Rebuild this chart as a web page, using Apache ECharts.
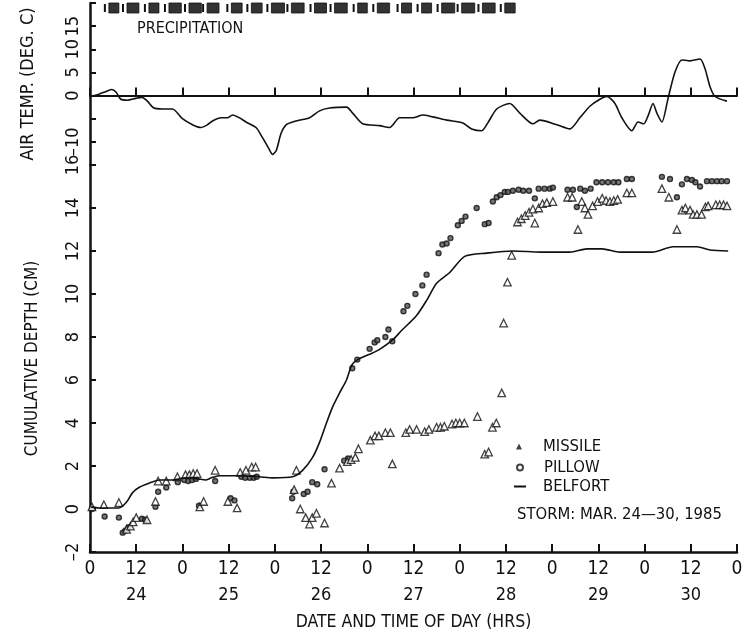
<!DOCTYPE html>
<html>
<head>
<meta charset="utf-8">
<script src="https://cdn.jsdelivr.net/npm/echarts@6/dist/echarts.min.js"></script>
<style>html,body{margin:0;padding:0;background:#fff;}#c{width:751px;height:639px;}</style>
</head>
<body>
<div id="c"></div>
<script>
// ---- data ----
const hourTickLabels = ['0','12'];
const dayLabels = ['24','25','26','27','28','29','30'];
const tempLabelValues = [-10, 0, 5, 10, 15];

const precipStart = [4.9, 9.6, 15.3, 20.5, 25.7, 30.4, 36.7, 41.9, 47.1, 52.3, 58.3, 63.5, 69.5, 74.6, 80.9, 86.1, 91.3, 96.5, 101.9, 107.7];
const precipEnd   = [7.5, 12.7, 17.9, 23.7, 28.9, 33.5, 39.5, 44.7, 50.5, 55.6, 61.4, 66.8, 72.0, 77.8, 83.5, 88.7, 94.7, 99.9, 105.2, 110.4];

const tempHours = [0, 2.3, 4.2, 5.7, 6.8, 8, 9.7, 11.9, 13.5, 14.9, 16.6, 18.8, 21.4, 24, 26.6, 28.8, 30.5, 31.8, 34, 35.7, 37, 38.8, 40.5, 43.1, 44.8, 46.4, 47.4, 48.4, 49.6, 51, 53.5, 57, 59.6, 62.2, 66.6, 68.2, 70.8, 75.2, 77.8, 80.4, 83.8, 86.4, 89, 92.6, 96.8, 99.1, 101.7, 103.3, 105.6, 109, 111.6, 115, 116.8, 121.2, 124.6, 127.2, 129.8, 132.4, 134.2, 136.3, 138.1, 140.7, 142.3, 143.8, 144.9, 146.2, 147.2, 148.5, 150.1, 151.9, 153.7, 155.8, 158.4, 159.7, 161, 162.3, 165.4];
const tempValues = [-0.2, 0.3, 0.9, 1.3, 0.7, -0.8, -1.0, -0.6, -0.4, -1.2, -2.7, -2.9, -2.9, -5.0, -6.3, -6.9, -6.3, -5.5, -4.8, -4.8, -4.2, -4.8, -5.7, -6.9, -9.1, -11.4, -12.7, -11.8, -8.2, -6.3, -5.5, -4.8, -3.3, -2.7, -2.5, -3.8, -6.1, -6.5, -6.9, -4.8, -4.8, -4.2, -4.6, -5.3, -5.9, -7.2, -7.6, -5.9, -2.9, -1.7, -3.8, -6.1, -5.3, -6.3, -7.2, -4.8, -2.3, -0.8, -0.2, -1.7, -4.8, -7.6, -5.7, -6.1, -4.4, -1.7, -3.8, -5.7, -0.6, 5.1, 7.7, 7.5, 7.9, 5.8, 1.9, -0.2, -1.2];

const belfortHours = [0.3, 2.3, 7.5, 9.4, 11, 12.7, 15.3, 18, 21.4, 25, 28, 30, 31.5, 33.5, 38.8, 44, 47.4, 52.6, 55.2, 57.8, 59.6, 61.4, 63, 64.8, 66.6, 68, 69.5, 72.6, 75, 78.5, 80.9, 84.8, 87.4, 90, 93.4, 97.3, 103, 109.8, 117, 124.6, 129, 133, 137.6, 146, 151.4, 157.6, 161, 165.7];
const belfortDepth = [0.1, 0.05, 0.05, 0.3, 0.75, 1.0, 1.2, 1.35, 1.35, 1.45, 1.4, 1.35, 1.45, 1.55, 1.55, 1.5, 1.45, 1.5, 1.8, 2.4, 3.1, 4.0, 4.75, 5.4, 6.0, 6.7, 6.95, 7.2, 7.4, 7.85, 8.3, 9.0, 9.7, 10.5, 11.0, 11.75, 11.9, 12.0, 11.95, 11.95, 12.1, 12.1, 11.95, 11.95, 12.2, 12.2, 12.05, 12.0];

const pillowHours = [0.5, 3.8, 7.5, 8.5, 9.2, 10, 13.5, 14.3, 17, 17.7, 19.8, 22.8, 24.5, 25.5, 26.5, 27.5, 28.3, 32.5, 36.5, 37.5, 39.3, 40.3, 41.5, 42.5, 43.3, 52.5, 52.8, 55.5, 56.5, 57.7, 59, 60.9, 66, 67, 68.1, 69.4, 72.6, 73.9, 74.6, 76.7, 77.5, 78.5, 81.4, 82.4, 84.5, 86.3, 87.4, 90.5, 91.5, 92.6, 93.6, 95.5, 96.5, 97.5, 100.4, 102.5, 103.5, 104.6, 105.6, 106.6, 107.7, 108.5, 109.8, 111.3, 112.5, 114, 115.5, 116.5, 118, 119.4, 120.2, 124, 125.4, 126.4, 127.3, 128.5, 130, 131.5, 133, 134.5, 136, 137.2, 139.4, 140.7, 148.5, 150.6, 152.4, 153.7, 155, 156.3, 157.2, 158.4, 160.2, 161.5, 162.8, 164, 165.4];
const pillowDepth = [0.0, -0.35, -0.4, -1.1, -1.0, -0.85, -0.45, -0.5, 0.1, 0.8, 1.0, 1.25, 1.35, 1.3, 1.35, 1.4, 0.15, 1.3, 0.5, 0.4, 1.5, 1.45, 1.45, 1.45, 1.5, 0.5, 0.8, 0.7, 0.8, 1.25, 1.15, 1.85, 2.25, 2.35, 6.55, 6.95, 7.45, 7.75, 7.85, 8.0, 8.35, 7.8, 9.2, 9.45, 10.0, 10.4, 10.9, 11.9, 12.3, 12.35, 12.6, 13.2, 13.4, 13.6, 14.0, 13.25, 13.3, 14.3, 14.5, 14.6, 14.75, 14.75, 14.8, 14.85, 14.8, 14.8, 14.45, 14.9, 14.9, 14.9, 14.95, 14.85, 14.85, 14.05, 14.9, 14.8, 14.9, 15.2, 15.2, 15.2, 15.2, 15.2, 15.35, 15.35, 15.45, 15.35, 14.5, 15.1, 15.35, 15.3, 15.2, 15.0, 15.25, 15.25, 15.25, 15.25, 15.25];

const missileHours = [0.5, 3.6, 7.5, 9.5, 10.5, 11.2, 12, 14.8, 17, 17.7, 19.8, 22.7, 24.8, 25.8, 26.8, 27.8, 28.5, 29.5, 32.5, 35.8, 38.2, 39, 40.5, 42, 43, 53.6, 53, 54.6, 56, 57, 57.7, 58.8, 60.9, 62.7, 64.8, 66.8, 67.8, 68.9, 69.7, 72.8, 74, 75, 76.7, 78, 78.5, 82, 83, 84.8, 86.9, 88, 90, 91, 92, 94, 95, 96, 97.2, 100.6, 102.5, 103.5, 104.5, 105.5, 106.9, 107.4, 108.4, 109.5, 111, 112, 113, 114, 115, 115.5, 116.5, 117.5, 118.6, 120.2, 124, 125.2, 126.7, 127.7, 128.5, 129.3, 130.5, 131.8, 133, 134, 135, 136, 137, 139.4, 140.7, 148.5, 150.3, 152.4, 153.7, 154.6, 155.8, 156.6, 157.6, 158.8, 159.8, 160.5, 162.5, 163.5, 164.5, 165.4];
const missileDepth = [0.1, 0.2, 0.3, -0.95, -0.8, -0.6, -0.4, -0.5, 0.35, 1.3, 1.3, 1.5, 1.6, 1.6, 1.65, 1.65, 0.1, 0.35, 1.8, 0.35, 0.05, 1.7, 1.8, 1.95, 1.95, 1.8, 0.9, 0.0, -0.4, -0.7, -0.4, -0.2, -0.65, 1.2, 1.9, 2.2, 2.3, 2.4, 2.8, 3.2, 3.4, 3.4, 3.55, 3.55, 2.1, 3.55, 3.7, 3.7, 3.6, 3.7, 3.8, 3.8, 3.85, 3.95, 4.0, 4.0, 4.0, 4.3, 2.55, 2.65, 3.8, 4.0, 5.4, 8.65, 10.55, 11.8, 13.35, 13.5, 13.65, 13.8, 13.95, 13.3, 14.0, 14.2, 14.25, 14.3, 14.5, 14.5, 13.0, 14.3, 14.0, 13.7, 14.1, 14.3, 14.45, 14.35, 14.3, 14.35, 14.4, 14.7, 14.7, 14.9, 14.5, 13.0, 13.9, 14.0, 13.9, 13.7, 13.7, 13.7, 14.05, 14.1, 14.15, 14.15, 14.15, 14.1];

// ---- chart ----
const FONT = "'Liberation Sans Narrow','DejaVu Sans Condensed','Liberation Sans',Arial,sans-serif";
const INK = '#111';
const zip = (a, b) => a.map((v, i) => [v, b[i]]);
const precipData = precipStart.map((s, i) => [s, precipEnd[i]]);

const chart = echarts.init(document.getElementById('c'), null, {renderer: 'canvas'});
const option = {
  animation: false,
  backgroundColor: '#fff',
  textStyle: {fontFamily: FONT, color: INK},
  grid: [
    {left: 90, top: 0, width: 647, height: 165},
    {left: 90, top: 165, width: 647, height: 387}
  ],
  xAxis: [
    {gridIndex: 0, type: 'value', min: 0, max: 168, interval: 12,
     axisLine: {onZero: true, lineStyle: {color: INK, width: 2}},
     axisTick: {inside: true, length: 8, lineStyle: {color: INK, width: 2}},
     axisLabel: {show: false}, splitLine: {show: false}},
    {gridIndex: 1, type: 'value', min: 0, max: 168, interval: 12, position: 'bottom',
     axisLine: {onZero: false, lineStyle: {color: INK, width: 2.5}},
     axisTick: {inside: true, length: 8, lineStyle: {color: INK, width: 2}},
     axisLabel: {margin: 8, fontSize: 19, color: INK, fontFamily: FONT,
       formatter: v => hourTickLabels[(v % 24) / 12]},
     splitLine: {show: false}},
    {gridIndex: 1, type: 'value', min: 0, max: 168, interval: 12, position: 'bottom', offset: 26,
     axisLine: {show: false, onZero: false}, axisTick: {show: false},
     axisLabel: {margin: 8, fontSize: 18, color: INK, fontFamily: FONT,
       formatter: v => (v % 24 === 12 ? dayLabels[Math.floor(v / 24)] : '')},
     splitLine: {show: false},
     name: 'DATE AND TIME OF DAY (HRS)', nameLocation: 'middle', nameGap: 35,
     nameTextStyle: {fontSize: 17.5, color: INK, fontFamily: FONT}}
  ],
  yAxis: [
    {gridIndex: 0, type: 'value', min: -15, max: 20, interval: 5,
     axisLine: {show: true, onZero: false, lineStyle: {color: INK, width: 2.5}},
     axisTick: {show: true, inside: true, length: 6, lineStyle: {color: INK, width: 2}},
     axisLabel: {rotate: 90, margin: 8, fontSize: 18, color: INK, fontFamily: FONT,
       formatter: v => (tempLabelValues.indexOf(v) >= 0 ? String(v).replace('-', '\u2013') : '')},
     splitLine: {show: false},
     name: 'AIR TEMP. (DEG. C)', nameLocation: 'middle', nameRotate: 90, nameGap: 53,
     nameTextStyle: {fontSize: 18, color: INK, fontFamily: FONT}},
    {gridIndex: 1, type: 'value', min: -2, max: 16, interval: 2,
     axisLine: {show: true, onZero: false, lineStyle: {color: INK, width: 2.5}},
     axisTick: {show: true, inside: true, length: 6, lineStyle: {color: INK, width: 2}},
     axisLabel: {rotate: 90, margin: 8, fontSize: 18, color: INK, fontFamily: FONT,
       formatter: v => String(v).replace('-', '\u2013')},
     splitLine: {show: false},
     name: 'CUMULATIVE DEPTH (CM)', nameLocation: 'middle', nameRotate: 90, nameGap: 49,
     nameTextStyle: {fontSize: 17, color: INK, fontFamily: FONT}}
  ],
  legend: [
    {orient: 'vertical', left: 516, top: 438, padding: 0, itemWidth: 6, itemHeight: 6,
     textStyle: {fontSize: 16.5, color: INK, fontFamily: FONT, padding: [0, 0, 0, 16]},
     data: [{name: 'MISSILE', icon: 'triangle', itemStyle: {color: INK, borderWidth: 0}}]},
    {orient: 'vertical', left: 516, top: 459, padding: 0, itemWidth: 6, itemHeight: 6,
     textStyle: {fontSize: 16.5, color: INK, fontFamily: FONT, padding: [0, 0, 0, 16]},
     data: [{name: 'PILLOW', icon: 'emptyCircle', itemStyle: {color: INK, borderColor: INK, borderWidth: 1.5}}]},
    {orient: 'vertical', left: 514, top: 478, padding: 0, itemWidth: 12, itemHeight: 2,
     textStyle: {fontSize: 16.5, color: INK, fontFamily: FONT, padding: [0, 0, 0, 12]},
     data: [{name: 'BELFORT', icon: 'rect', itemStyle: {color: INK}}]}
  ],
  graphic: [
    {type: 'text', left: 137, top: 21, style: {text: 'PRECIPITATION', font: '16px ' + FONT, fill: INK}},
    {type: 'text', left: 517, top: 506, style: {text: 'STORM: MAR. 24\u201430, 1985', font: '16.5px ' + FONT, fill: INK}}
  ],
  series: [
    {type: 'custom', name: 'PRECIPITATION', xAxisIndex: 0, yAxisIndex: 0, clip: false,
     data: precipData,
     renderItem: function (params, api) {
       const p0 = api.coord([api.value(0), 20]);
       const p1 = api.coord([api.value(1), 20]);
       return {type: 'group', children: [
         {type: 'rect', shape: {x: p0[0], y: p0[1], width: p1[0] - p0[0], height: 10},
          style: {fill: '#333', stroke: '#111', lineWidth: 0.8}},
         {type: 'rect', shape: {x: p0[0] - 5, y: p0[1] + 1, width: 2, height: 8},
          style: {fill: '#111'}}
       ]};
     }},
    {type: 'line', name: 'AIR TEMP', xAxisIndex: 0, yAxisIndex: 0, data: zip(tempHours, tempValues),
     showSymbol: false, smooth: 0.25, lineStyle: {color: INK, width: 1.6}},
    {type: 'line', name: 'BELFORT', xAxisIndex: 1, yAxisIndex: 1, data: zip(belfortHours, belfortDepth),
     showSymbol: false, smooth: 0.25, lineStyle: {color: INK, width: 1.6}, itemStyle: {color: INK}},
    {type: 'scatter', name: 'PILLOW', xAxisIndex: 1, yAxisIndex: 1, data: zip(pillowHours, pillowDepth),
     symbol: 'circle', symbolSize: 5, itemStyle: {color: '#555', borderColor: INK, borderWidth: 1.4}},
    {type: 'scatter', name: 'MISSILE', xAxisIndex: 1, yAxisIndex: 1, data: zip(missileHours, missileDepth),
     symbol: 'triangle', symbolSize: 7.5, itemStyle: {color: '#fff', borderColor: INK, borderWidth: 1.3}}
  ]
};
chart.setOption(option);
</script>
</body>
</html>
